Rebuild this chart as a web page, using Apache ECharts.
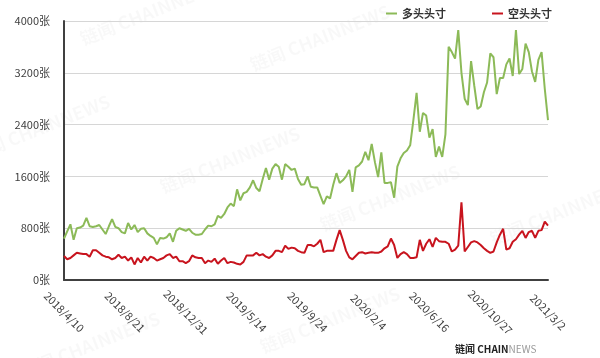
<!DOCTYPE html>
<html>
<head>
<meta charset="utf-8">
<script src="https://cdn.jsdelivr.net/npm/echarts@6/dist/echarts.min.js"></script>
<style>
html,body{margin:0;padding:0;background:#fff;}
#c{width:600px;height:358px;}
</style>
</head>
<body>
<div id="c"></div>
<script>
const dates = [
'2018/4/10','2018/4/17','2018/4/24','2018/5/1','2018/5/8','2018/5/15','2018/5/22','2018/5/29','2018/6/5','2018/6/12',
'2018/6/19','2018/6/26','2018/7/3','2018/7/10','2018/7/17','2018/7/24','2018/7/31','2018/8/7','2018/8/14','2018/8/21',
'2018/8/28','2018/9/4','2018/9/11','2018/9/18','2018/9/25','2018/10/2','2018/10/9','2018/10/16','2018/10/23','2018/10/30',
'2018/11/6','2018/11/13','2018/11/20','2018/11/27','2018/12/4','2018/12/11','2018/12/18','2018/12/24','2018/12/31',
'2019/1/8','2019/1/15','2019/1/22','2019/1/29','2019/2/5','2019/2/12','2019/2/19','2019/2/26','2019/3/5','2019/3/12',
'2019/3/19','2019/3/26','2019/4/2','2019/4/9','2019/4/16','2019/4/23','2019/4/30','2019/5/7','2019/5/14','2019/5/21',
'2019/5/28','2019/6/4','2019/6/11','2019/6/18','2019/6/25','2019/7/2','2019/7/9','2019/7/16','2019/7/23','2019/7/30',
'2019/8/6','2019/8/13','2019/8/20','2019/8/27','2019/9/3','2019/9/10','2019/9/17','2019/9/24','2019/10/1','2019/10/8',
'2019/10/15','2019/10/22','2019/10/29','2019/11/5','2019/11/12','2019/11/19','2019/11/26','2019/12/3','2019/12/10','2019/12/17',
'2019/12/24','2019/12/31','2020/1/7','2020/1/14','2020/1/21','2020/1/28','2020/2/4','2020/2/11','2020/2/18','2020/2/25',
'2020/3/3','2020/3/10','2020/3/17','2020/3/24','2020/3/31','2020/4/7','2020/4/14','2020/4/21','2020/4/28','2020/5/5',
'2020/5/12','2020/5/19','2020/5/26','2020/6/2','2020/6/9','2020/6/16','2020/6/23','2020/6/30','2020/7/7','2020/7/14',
'2020/7/21','2020/7/28','2020/8/4','2020/8/11','2020/8/18','2020/8/25','2020/9/1','2020/9/8','2020/9/15','2020/9/22',
'2020/9/29','2020/10/6','2020/10/13','2020/10/20','2020/10/27','2020/11/3','2020/11/10','2020/11/17','2020/11/24','2020/12/1',
'2020/12/8','2020/12/15','2020/12/22','2020/12/29','2021/1/5','2021/1/12','2021/1/19','2021/1/26','2021/2/2','2021/2/9',
'2021/2/16','2021/2/23','2021/3/2'
];

const longPositions = [
640,750,860,620,800,810,840,960,830,820,
830,850,780,710,830,940,820,800,740,720,
880,780,850,740,790,800,720,680,650,550,
650,640,660,720,590,760,800,780,760,790,
730,700,700,710,780,840,830,860,990,960,
1020,1120,1180,1140,1400,1230,1340,1360,1430,1540,
1420,1370,1560,1730,1550,1720,1790,1750,1550,1790,
1750,1700,1720,1560,1470,1480,1600,1440,1430,1430,
1300,1170,1290,1260,1470,1650,1500,1540,1600,1700,
1360,1740,1770,1830,1980,1850,2100,1820,1590,1970,
1500,1500,1510,1270,1750,1880,1960,2000,2080,2470,
2890,2290,2580,2540,2200,2330,1900,2060,1900,2250,
3600,3520,3420,3860,3200,2800,2700,3380,3000,2640,
2680,2900,3050,3500,3440,2870,3120,3120,3330,3420,
3150,3860,3180,3260,3650,3520,3220,3060,3400,3520,
2950,2470
];

const shortPositions = [
370,320,340,380,420,410,400,400,360,460,
460,420,380,360,350,320,340,390,340,360,
300,350,240,340,270,360,300,360,340,300,
320,340,380,400,340,360,290,290,260,290,
380,350,340,340,260,300,280,330,250,300,
340,260,280,270,250,240,280,380,380,380,
420,380,400,360,340,380,450,450,430,530,
480,500,490,450,430,420,540,540,520,560,
620,430,450,450,450,620,770,620,450,350,
320,370,420,430,410,420,430,420,420,440,
490,520,640,540,340,400,430,400,340,340,
350,620,450,560,630,510,650,600,590,590,
560,440,470,530,1200,440,510,580,600,580,
540,490,450,420,440,580,700,790,470,490,
590,630,700,760,650,740,760,650,760,770,
900,840
];

const seriesNames = ['多头头寸', '空头头寸'];
const yTicks = [0, 800, 1600, 2400, 3200, 4000];
const labelEvery = 19;

const font = '"Noto Sans CJK SC", "Noto Sans", sans-serif';
const chart = echarts.init(document.getElementById('c'), null, {renderer: 'canvas'});

const wm = (x, y, t) => ({
  type: 'text', x: x, y: y, rotation: 0.38, silent: true, z: -10,
  style: {text: t, fill: 'rgba(0,0,0,0.028)', font: 'bold 18px ' + font, textAlign: 'center', textVerticalAlign: 'middle'}
});

chart.setOption({
  animation: false,
  backgroundColor: '#ffffff',
  grid: {left: 64, right: 52, top: 21, bottom: 78, containLabel: false},
  legend: {
    data: seriesNames,
    left: 381, top: 3,
    icon: 'rect', itemWidth: 11, itemHeight: 2, itemGap: 46, itemTextGap: 6,
    textStyle: {fontFamily: font, fontSize: 11, fontWeight: 'bold', color: '#333'}
  },
  xAxis: {
    type: 'category',
    data: dates,
    boundaryGap: false,
    axisLine: {lineStyle: {color: '#404040', width: 2}},
    axisTick: {show: false},
    axisLabel: {
      interval: (i) => i % labelEvery === 0 || i === dates.length - 1,
      rotate: -45,
      align: 'center',
      verticalAlign: 'middle',
      margin: 32,
      fontFamily: font,
      fontSize: 11,
      color: '#404040',
      hideOverlap: false
    },
    splitLine: {show: false}
  },
  yAxis: {
    type: 'value',
    min: yTicks[0], max: yTicks[yTicks.length - 1], interval: 800,
    axisLine: {show: true, lineStyle: {color: '#404040', width: 2}},
    axisTick: {show: false},
    axisLabel: {formatter: (v) => String(v) + '张', fontFamily: font, fontSize: 11, color: '#404040', margin: 14},
    splitLine: {lineStyle: {color: '#d6d6d6', width: 1}}
  },
  series: [
    {name: seriesNames[0], type: 'line', data: longPositions, symbol: 'none', smooth: false,
     lineStyle: {color: '#8cba58', width: 2}, itemStyle: {color: '#8cba58'}},
    {name: seriesNames[1], type: 'line', data: shortPositions, symbol: 'none', smooth: false,
     lineStyle: {color: '#c8141e', width: 2}, itemStyle: {color: '#c8141e'}}
  ],
  graphic: [
    wm(150, 12, '链闻 CHAINNEWS'),
    wm(320, 38, '链闻 CHAINNEWS'),
    wm(40, 128, '链闻 CHAINNEWS'),
    wm(230, 160, '链闻 CHAINNEWS'),
    wm(390, 198, '链闻 CHAINNEWS'),
    wm(560, 212, '链闻 CHAINNEWS'),
    wm(90, 345, '链闻 CHAINNEWS'),
    wm(330, 320, '链闻 CHAINNEWS'),
    {type: 'text', left: 455, top: 344, silent: true,
     style: {
       text: '{a|链闻 CHAIN}{b|NEWS}',
       rich: {
         a: {fill: '#222', fontFamily: font, fontSize: 10, fontWeight: 'bold'},
         b: {fill: '#9a9a9a', fontFamily: font, fontSize: 10}
       }
     }}
  ]
});
</script>
</body>
</html>
